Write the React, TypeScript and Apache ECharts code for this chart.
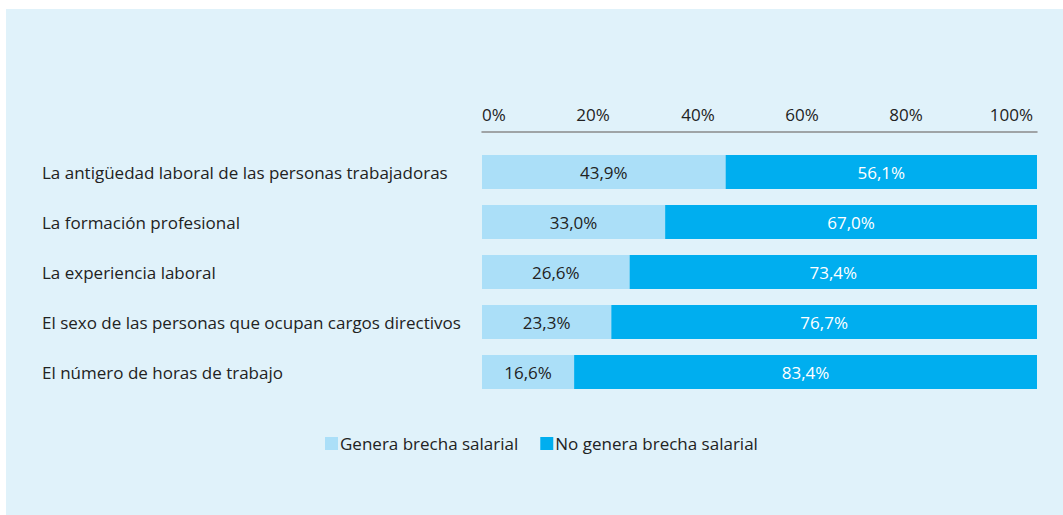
import React, { useEffect, useRef } from "react";
import * as echarts from "echarts";

const categories = [
  "La antigüedad laboral de las personas trabajadoras",
  "La formación profesional",
  "La experiencia laboral",
  "El sexo de las personas que ocupan cargos directivos",
  "El número de horas de trabajo",
];
const generaValues = [43.9, 33.0, 26.6, 23.3, 16.6];
const noGeneraValues = [56.1, 67.0, 73.4, 76.7, 83.4];
const seriesNames = ["Genera brecha salarial", "No genera brecha salarial"];
const FONT = "'Open Sans', 'Noto Sans', sans-serif";

const fmt = (v: number) => v.toFixed(1).replace(".", ",") + "%";

const tickStyle = (rightPad: number) => ({
  fontSize: 17,
  color: "#222",
  fontFamily: FONT,
  padding: [0, rightPad, 0, 0],
});

export default function App() {
  const ref = useRef<HTMLDivElement>(null);
  useEffect(() => {
    if (!ref.current) return;
    const chart = echarts.init(ref.current, undefined, { renderer: "svg" });
    chart.setOption({
      animation: false,
      backgroundColor: "#ffffff",
      textStyle: { fontFamily: FONT },
      graphic: [
        {
          type: "rect",
          z: -10,
          shape: { x: 6, y: 9, width: 1057, height: 506 },
          style: { fill: "#e0f2fa" },
        },
      ],
      legend: {
        left: 320,
        top: 430,
        itemWidth: 13,
        itemHeight: 13,
        itemGap: 22,
        icon: "rect",
        textStyle: { fontSize: 17, color: "#222", fontFamily: FONT, padding: [0, 0, 0, -3] },
        data: seriesNames,
      },
      grid: { left: 482, right: 26, top: 147, height: 250, containLabel: false },
      xAxis: {
        type: "value",
        position: "top",
        min: 0,
        max: 100,
        interval: 20,
        offset: 15,
        axisLine: { show: true, lineStyle: { color: "#8a8a8a", width: 1.5 } },
        axisTick: { show: false },
        splitLine: { show: false },
        axisLabel: {
          formatter: (v: number) => "{t" + v + "|" + v + "%}",
          fontSize: 17,
          color: "#222",
          fontFamily: FONT,
          margin: 9,
          alignMinLabel: "left",
          alignMaxLabel: "right",
          rich: {
            t0: tickStyle(0),
            t20: tickStyle(0),
            t40: tickStyle(12),
            t60: tickStyle(26),
            t80: tickStyle(40),
            t100: tickStyle(4),
          },
        },
      },
      yAxis: {
        type: "category",
        inverse: true,
        data: categories,
        axisLine: { show: false },
        axisTick: { show: false },
        axisLabel: {
          align: "left",
          margin: 440,
          fontSize: 17,
          color: "#222",
          fontFamily: FONT,
        },
      },
      series: [
        {
          name: seriesNames[0],
          type: "bar",
          stack: "total",
          barWidth: 34,
          data: generaValues,
          itemStyle: { color: "#abdff8" },
          label: {
            show: true,
            position: "inside",
            formatter: (p: any) => fmt(p.value),
            color: "#222",
            fontSize: 17,
            fontFamily: FONT,
          },
        },
        {
          name: seriesNames[1],
          type: "bar",
          stack: "total",
          barWidth: 34,
          data: noGeneraValues,
          itemStyle: { color: "#00aeef" },
          label: {
            show: true,
            position: "inside",
            formatter: (p: any) => fmt(p.value),
            color: "#ffffff",
            fontSize: 17,
            fontFamily: FONT,
          },
        },
      ],
    });
    return () => chart.dispose();
  }, []);
  return (
    <div
      ref={ref}
      style={{ position: "absolute", left: 0, top: 0, width: 1063, height: 515 }}
    />
  );
}
